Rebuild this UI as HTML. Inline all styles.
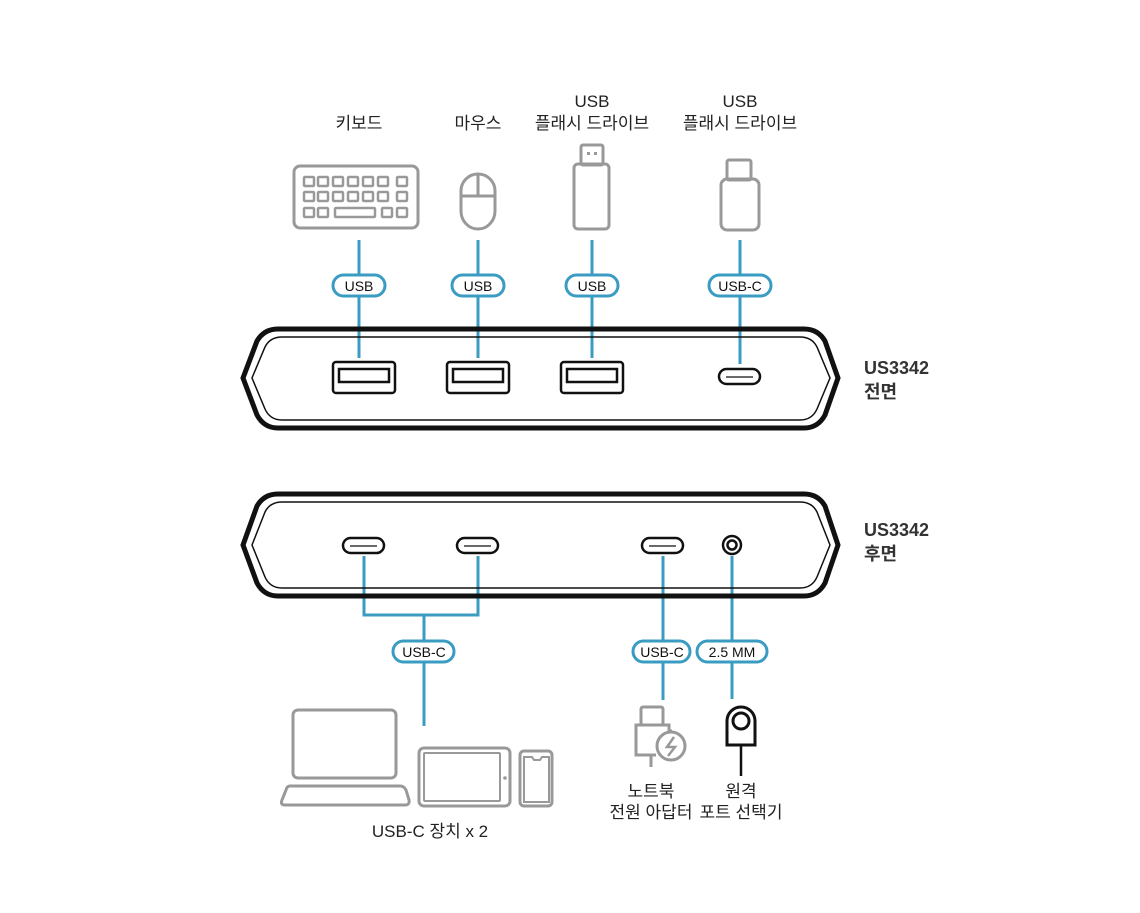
<!DOCTYPE html>
<html><head><meta charset="utf-8"><style>
html,body{margin:0;padding:0;background:#fff;}
svg{display:block;}
text{font-family:"Liberation Sans","Noto Sans CJK KR",sans-serif;}
</style></head><body>
<svg width="1140" height="913" viewBox="0 0 1140 913" xmlns="http://www.w3.org/2000/svg">
<g font-size="17" fill="#222" text-anchor="middle">
<text x="359" y="129">키보드</text>
<text x="478" y="129">마우스</text>
<text x="592" y="107">USB</text>
<text x="592" y="129">플래시 드라이브</text>
<text x="740" y="107">USB</text>
<text x="740" y="129">플래시 드라이브</text>
</g>
<g font-size="18" font-weight="bold" fill="#333">
<text x="864" y="374">US3342</text><text x="864" y="398">전면</text>
<text x="864" y="536">US3342</text><text x="864" y="560">후면</text>
</g>
<g fill="none" stroke="#999" stroke-width="3">
<rect x="294" y="166" width="124" height="62" rx="6"/>
<g stroke-width="2.5">
<rect x="304" y="177" width="10" height="9" rx="1"/><rect x="318" y="177" width="10" height="9" rx="1"/><rect x="333" y="177" width="10" height="9" rx="1"/><rect x="348" y="177" width="10" height="9" rx="1"/><rect x="363" y="177" width="10" height="9" rx="1"/><rect x="378" y="177" width="10" height="9" rx="1"/><rect x="397" y="177" width="10" height="9" rx="1"/>
<rect x="304" y="192" width="10" height="9" rx="1"/><rect x="318" y="192" width="10" height="9" rx="1"/><rect x="333" y="192" width="10" height="9" rx="1"/><rect x="348" y="192" width="10" height="9" rx="1"/><rect x="363" y="192" width="10" height="9" rx="1"/><rect x="378" y="192" width="10" height="9" rx="1"/><rect x="397" y="192" width="10" height="9" rx="1"/>
<rect x="304" y="208" width="10" height="9" rx="1"/><rect x="318" y="208" width="10" height="9" rx="1"/><rect x="335" y="208" width="40" height="9" rx="1"/><rect x="382" y="208" width="10" height="9" rx="1"/><rect x="397" y="208" width="10" height="9" rx="1"/>
</g>
<path d="M461,191 A17,17 0 0 1 495,191 L495,211 A17,18 0 0 1 461,211 Z"/>
<path d="M478,174 L478,196 M461,196 L495,196"/>
<rect x="581" y="145" width="22" height="20" rx="2"/>
<rect x="574" y="164" width="35" height="65" rx="4"/>
<rect x="727" y="160" width="24" height="20" rx="2"/>
<rect x="721" y="179" width="38" height="51" rx="6"/>
<rect x="293" y="710" width="103" height="68" rx="5"/>
<path d="M290,786 L400,786 Q404,786 406,790 L409,800 Q410,805 405,805 L285,805 Q280,805 282,800 L286,790 Q287,786 290,786 Z"/>
<rect x="419" y="748" width="91" height="58" rx="5"/>
<rect x="424" y="753" width="76" height="48" rx="1" stroke-width="2"/>
<rect x="520" y="751" width="32" height="55" rx="4"/>
<path d="M524,757 L532,757 L534,760 L540,760 L542,757 L549,757 L549,802 L524,802 Z" stroke-width="2"/>
<rect x="641" y="707" width="22" height="18" rx="2"/>
<path d="M672,731 L669,731 L669,725 L636,725 L636,755 L656,755 M651,755 L651,767"/>
<circle cx="671" cy="746" r="14"/>
<path d="M674,737 L667,747 L675,747 L668,756" stroke-width="2.5"/>
</g>
<circle cx="505" cy="778" r="1.8" fill="#999"/>
<rect x="587" y="152" width="3" height="3" fill="#999"/><rect x="594" y="152" width="3" height="3" fill="#999"/>
<g fill="none" stroke="#111" stroke-width="3">
<path d="M727,745 L727,721 A14,14 0 0 1 755,721 L755,745 Z"/>
<circle cx="741" cy="721" r="8"/>
<path d="M741,745 L741,776" stroke-width="2.5"/>
</g>
<g font-size="17" fill="#222" text-anchor="middle">
<text x="430" y="837">USB-C 장치 x 2</text>
<text x="651" y="797">노트북</text>
<text x="651" y="818">전원 아답터</text>
<text x="741" y="797">원격</text>
<text x="741" y="818">포트 선택기</text>
</g>
<g stroke="#3a9cc2" stroke-width="3" fill="none">
<path d="M359,240 L359,358 M478,240 L478,358 M592,240 L592,358 M740,240 L740,364"/>
<path d="M364,556 L364,615 L478,615 L478,556 M424,615 L424,726 M663,556 L663,700 M732,556 L732,699"/>
</g>
<g stroke="#3a9cc2" stroke-width="3" fill="#fff">
<rect x="333" y="275" width="52" height="21" rx="10.5"/>
<rect x="452" y="275" width="52" height="21" rx="10.5"/>
<rect x="566" y="275" width="52" height="21" rx="10.5"/>
<rect x="709" y="275" width="62" height="21" rx="10.5"/>
<rect x="393" y="641" width="61" height="21" rx="10.5"/>
<rect x="633" y="641" width="57" height="21" rx="10.5"/>
<rect x="697" y="641" width="70" height="21" rx="10.5"/>
</g>
<g font-size="14" fill="#111" text-anchor="middle">
<text x="359" y="291">USB</text><text x="478" y="291">USB</text><text x="592" y="291">USB</text><text x="740" y="291">USB-C</text>
<text x="424" y="657">USB-C</text><text x="662" y="657">USB-C</text><text x="732" y="657">2.5 MM</text>
</g>
<g fill="none" stroke="#111">
<path stroke-width="5" d="M278,329 L804,329 Q818,329 825,341 L838,378 L825,415 Q818,428 804,428 L278,428 Q264,428 257,415 L243,378 L257,341 Q264,329 278,329 Z"/>
<path stroke-width="1.5" d="M282,337 L800,337 Q812,337 817,347 L830,378 L817,409 Q812,420 800,420 L282,420 Q270,420 265,409 L252,378 L265,347 Q270,337 282,337 Z"/>
<path stroke-width="5" d="M278,494 L804,494 Q818,494 825,506 L838,545 L825,583 Q818,596 804,596 L278,596 Q264,596 257,583 L243,545 L257,506 Q264,494 278,494 Z"/>
<path stroke-width="1.5" d="M282,502 L800,502 Q812,502 817,512 L830,545 L817,577 Q812,588 800,588 L282,588 Q270,588 265,577 L252,545 L265,512 Q270,502 282,502 Z"/>
<g stroke-width="2.5">
<rect x="333" y="362" width="62" height="31" rx="3"/><rect x="339" y="369" width="50" height="13"/>
<rect x="447" y="362" width="62" height="31" rx="3"/><rect x="453" y="369" width="50" height="13"/>
<rect x="561" y="362" width="62" height="31" rx="3"/><rect x="567" y="369" width="50" height="13"/>
<rect x="719" y="369" width="41" height="15" rx="7.5"/>
<rect x="343" y="538" width="41" height="15" rx="7.5"/>
<rect x="457" y="538" width="41" height="15" rx="7.5"/>
<rect x="642" y="538" width="41" height="15" rx="7.5"/>
<circle cx="732" cy="545" r="9"/><circle cx="732" cy="545" r="4.5"/>
</g>
<g stroke-width="1.2"><path d="M726,377 L753,377 M350,546 L377,546 M464,546 L491,546 M649,546 L676,546"/></g>
</g>
</svg>
</body></html>
